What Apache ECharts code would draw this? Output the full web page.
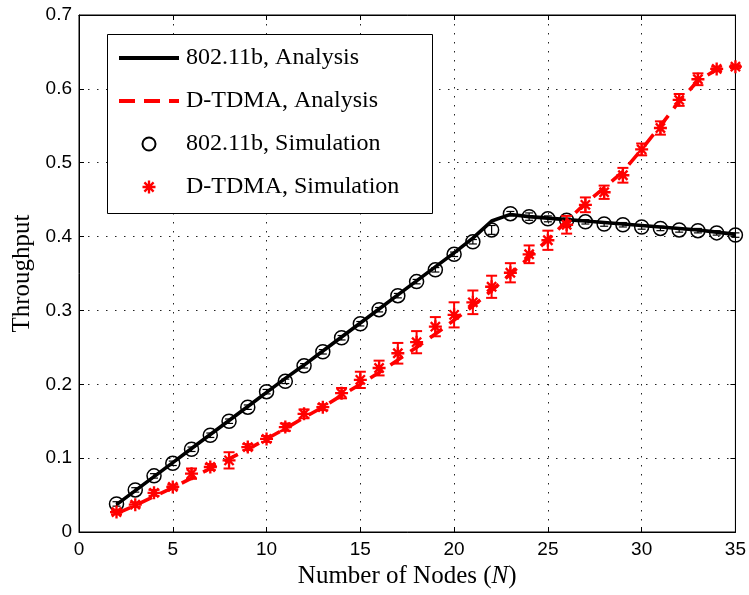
<!DOCTYPE html>
<html>
<head>
<meta charset="utf-8">
<script src="https://cdn.jsdelivr.net/npm/echarts@6/dist/echarts.min.js"></script>
<style>
html,body{margin:0;padding:0;background:#fff;}
#chart{width:749px;height:595px;}
</style>
</head>
<body>
<div id="chart"></div>
<script>
// ---- data ----
var nodes = [2,3,4,5,6,7,8,9,10,11,12,13,14,15,16,17,18,19,20,21,22,23,24,25,26,27,28,29,30,31,32,33,34,35];
var xTicks = [0,5,10,15,20,25,30,35];
var yTicks = [0,0.1,0.2,0.3,0.4,0.5,0.6,0.7];

var bAnalysis = [0.037,0.056,0.075,0.094,0.113,0.132,0.151,0.170,0.189,0.208,0.226,0.245,0.264,0.283,0.302,0.321,0.340,0.359,0.378,0.398,0.421,0.430,0.427,0.425,0.423,0.421,0.419,0.417,0.415,0.413,0.411,0.409,0.406,0.403];
var tAnalysis = [0.025,0.036,0.048,0.060,0.073,0.086,0.099,0.112,0.126,0.140,0.155,0.169,0.185,0.200,0.216,0.233,0.250,0.268,0.287,0.306,0.327,0.349,0.372,0.396,0.421,0.445,0.466,0.488,0.518,0.550,0.583,0.611,0.626,0.630];

var bSim = [0.038,0.057,0.076,0.093,0.112,0.131,0.150,0.169,0.190,0.204,0.225,0.244,0.263,0.282,0.301,0.320,0.339,0.355,0.376,0.393,0.409,0.431,0.427,0.424,0.422,0.420,0.417,0.416,0.413,0.411,0.409,0.408,0.405,0.402];
var bErr = [0.003,0.003,0.003,0.003,0.003,0.003,0.003,0.003,0.003,0.003,0.003,0.003,0.003,0.003,0.003,0.003,0.003,0.003,0.003,0.003,0.006,0.003,0.005,0.004,0.003,0.003,0.003,0.003,0.003,0.003,0.003,0.003,0.003,0.003];

var tSim = [0.027,0.037,0.053,0.061,0.079,0.088,0.097,0.115,0.126,0.142,0.160,0.169,0.188,0.206,0.222,0.242,0.257,0.278,0.294,0.311,0.332,0.351,0.376,0.395,0.416,0.443,0.460,0.483,0.518,0.547,0.585,0.613,0.627,0.630];
var tErr = [0.003,0.003,0.004,0.003,0.007,0.004,0.011,0.004,0.004,0.005,0.006,0.004,0.007,0.011,0.010,0.014,0.015,0.013,0.017,0.016,0.015,0.013,0.012,0.013,0.012,0.010,0.009,0.010,0.008,0.009,0.008,0.008,0.003,0.002];

var names = ['802.11b, Analysis','D-TDMA, Analysis','802.11b, Simulation','D-TDMA, Simulation'];

// ---- build ----
function pairs(xs, ys){ return xs.map(function(x,i){ return [x, ys[i]]; }); }
function errData(xs, ys, es){ return xs.map(function(x,i){ return [x, ys[i]-es[i], ys[i]+es[i]]; }); }

var starPath = 'path://M0,41L100,41L100,59L0,59Z M59,0L59,100L41,100L41,0Z M21.01,8.28L91.72,78.99L78.99,91.72L8.28,21.01Z M91.72,21.01L21.01,91.72L8.28,78.99L78.99,8.28Z';
var solidIcon = 'path://M0,0L60,0L60,4L0,4Z';
var dashIcon = 'path://M0,0L16,0L16,4L0,4Z M25,0L41,0L41,4L25,4Z M50,0L60,0L60,4L50,4Z';

function errRender(capHalf, color, width){
  return function(params, api){
    var x = api.value(0);
    var lo = api.coord([x, api.value(1)]);
    var hi = api.coord([x, api.value(2)]);
    var st = {stroke: color, lineWidth: width};
    return {type:'group', children:[
      {type:'line', shape:{x1:lo[0],y1:lo[1],x2:hi[0],y2:hi[1]}, style:st},
      {type:'line', shape:{x1:lo[0]-capHalf,y1:lo[1],x2:lo[0]+capHalf,y2:lo[1]}, style:st},
      {type:'line', shape:{x1:hi[0]-capHalf,y1:hi[1],x2:hi[0]+capHalf,y2:hi[1]}, style:st}
    ]};
  };
}

var tickFont = {fontFamily:'Liberation Sans', fontSize:19, color:'#000'};
var serif = 'Liberation Serif';

var chart = echarts.init(document.getElementById('chart'), null, {renderer:'canvas'});
chart.setOption({
  animation:false,
  backgroundColor:'#fff',
  grid:{left:79, top:15, right:12, bottom:63, show:true, borderColor:'#000', borderWidth:1, backgroundColor:'transparent'},
  xAxis:[{
    type:'value', min:xTicks[0], max:xTicks[xTicks.length-1], interval:5,
    axisLine:{show:true, onZero:false, lineStyle:{color:'#000', width:1}},
    axisTick:{show:true, inside:true, length:5, lineStyle:{color:'#000'}},
    axisLabel:Object.assign({margin:8}, tickFont),
    splitLine:{show:true, lineStyle:{color:'#222', type:[1.5,7.5], width:1}},
    name:'Number of Nodes ({i|N})', nameLocation:'middle', nameGap:32,
    nameTextStyle:{fontFamily:serif, fontSize:25, color:'#000', rich:{i:{fontFamily:serif, fontSize:25, fontStyle:'italic', color:'#000'}}}
  },{
    type:'value', position:'top', min:xTicks[0], max:xTicks[xTicks.length-1], interval:5,
    axisLine:{show:true, onZero:false, lineStyle:{color:'#000'}},
    axisTick:{show:true, inside:true, length:5, lineStyle:{color:'#000'}},
    axisLabel:{show:false}, splitLine:{show:false}
  }],
  yAxis:[{
    type:'value', min:yTicks[0], max:yTicks[yTicks.length-1], interval:0.1,
    axisLine:{show:true, onZero:false, lineStyle:{color:'#000', width:1}},
    axisTick:{show:true, inside:true, length:5, lineStyle:{color:'#000'}},
    axisLabel:Object.assign({margin:7}, tickFont),
    splitLine:{show:true, lineStyle:{color:'#222', type:[1.5,7.5], width:1}},
    name:'Throughput', nameLocation:'middle', nameGap:38,
    nameTextStyle:{fontFamily:serif, fontSize:25, color:'#000'}
  },{
    type:'value', position:'right', min:yTicks[0], max:yTicks[yTicks.length-1], interval:0.1,
    axisLine:{show:true, onZero:false, lineStyle:{color:'#000'}},
    axisTick:{show:true, inside:true, length:5, lineStyle:{color:'#000'}},
    axisLabel:{show:false}, splitLine:{show:false}
  }],
  graphic:[{
    type:'rect', left:107, top:34, z:3,
    shape:{width:325, height:179},
    style:{fill:'#fff', stroke:'#000', lineWidth:1}
  }],
  legend:{
    orient:'vertical', left:119, top:46, padding:0,
    itemWidth:60, itemHeight:13, itemGap:19,
    textStyle:{fontFamily:serif, fontSize:24, color:'#000', lineHeight:24, padding:[0,0,0,2]},
    data:[
      {name:names[0], icon:solidIcon, itemStyle:{color:'#000'}},
      {name:names[1], icon:dashIcon, itemStyle:{color:'#ff0000'}},
      {name:names[2]},
      {name:names[3]}
    ],
    selectedMode:false, z:5
  },
  series:[
    {name:names[0], type:'line', data:pairs(nodes,bAnalysis), symbol:'none', showSymbol:false, z:2,
     lineStyle:{color:'#000', width:3.6}, itemStyle:{color:'#000'}},
    {name:'bErr', type:'custom', data:errData(nodes,bSim,bErr), renderItem:errRender(4,'#000',1.2), z:3, silent:true},
    {name:names[2], type:'scatter', data:pairs(nodes,bSim), symbol:'circle', symbolSize:14, z:3,
     itemStyle:{color:'rgba(0,0,0,0)', borderColor:'#000', borderWidth:1.5, opacity:1}},
    {name:names[1], type:'line', data:pairs(nodes,tAnalysis), symbol:'none', showSymbol:false, z:4,
     lineStyle:{color:'#ff0000', width:3.6, type:[15,9]}, itemStyle:{color:'#ff0000'}},
    {name:'tErr', type:'custom', data:errData(nodes,tSim,tErr), renderItem:errRender(5.5,'#ff0000',2), z:5, silent:true},
    {name:names[3], type:'scatter', data:pairs(nodes,tSim), symbol:starPath, symbolSize:13, z:5,
     itemStyle:{color:'#ff0000', opacity:1}}
  ]
});
</script>
</body>
</html>
